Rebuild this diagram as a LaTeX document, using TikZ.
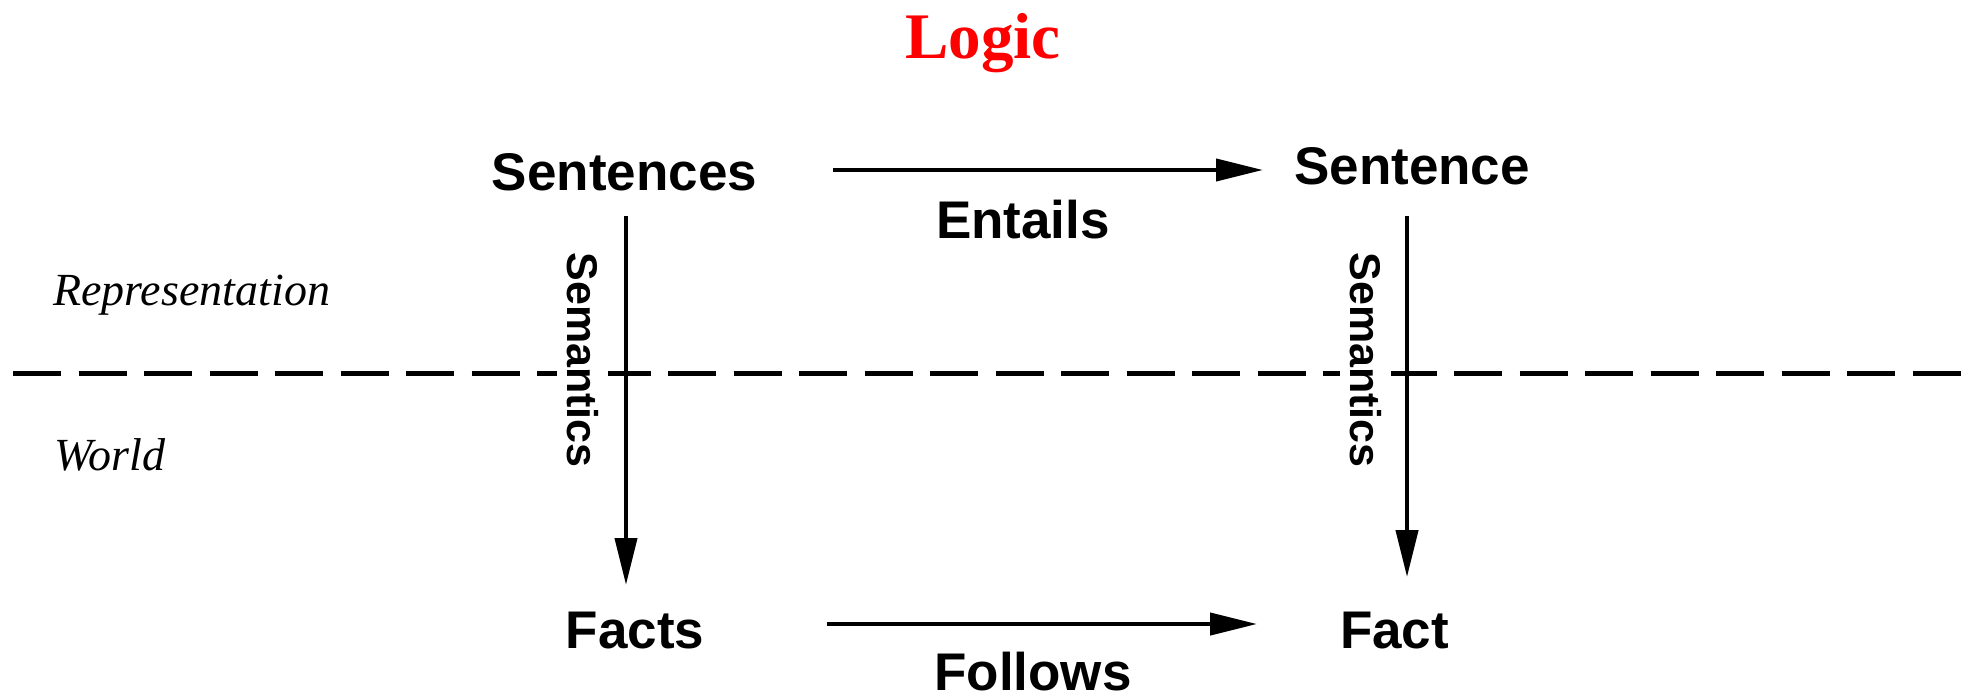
\documentclass[tikz,border=0pt]{standalone}
\usepackage{fontspec}
\setmainfont{Liberation Serif}
\newfontfamily\labelfont{Liberation Sans}
\usetikzlibrary{arrows.meta}

\tikzset{
  term/.style={font=\labelfont\bfseries\fontsize{53}{60}\selectfont, inner sep=0pt, anchor=base},
  semlabel/.style={font=\labelfont\bfseries\fontsize{43}{50}\selectfont, rotate=-90, anchor=base,
    fill=white, inner xsep=0pt, inner ysep=10pt},
  realm/.style={font=\itshape\fontsize{46}{52}\selectfont, inner sep=0pt, anchor=base west},
  title/.style={font=\bfseries\fontsize{65}{70}\selectfont, text=red, inner sep=0pt, anchor=base},
  arr/.style={line width=4.2pt, -{Triangle[length=47pt,width=22pt]}},
  divider/.style={line width=5pt, dash pattern=on 48pt off 17.5pt}
}

\begin{document}
\begin{tikzpicture}[x=1pt,y=-1pt]
  \useasboundingbox (0,0) rectangle (1971,697);

  % boundary between representation and world
  \coordinate (divL) at (13,373);
  \coordinate (divR) at (1961,373);
  \draw[divider] (divL) -- (divR);

  \node[title] (logic) at (983,58) {Logic};

  \node[realm] (repr) at (53,305) {Representation};
  \node[realm] (world) at (54,470) {World};

  \node[term] (sentences) at (624.5,190) {Sentences};
  \node[term] (sentence) at (1412,184) {Sentence};
  \node[term] (facts) at (635,648) {Facts};
  \node[term] (fact) at (1394.5,648) {Fact};
  \node[term] (entails) at (1023,238) {Entails};
  \node[term, text depth=0pt] (follows) at (1033,690) {Follows};

  % end points of the four arrows
  \coordinate (entS) at (833,170);
  \coordinate (entE) at (1263,170);
  \coordinate (folS) at (827,624);
  \coordinate (folE) at (1257,624);
  \coordinate (semLS) at (626,216);
  \coordinate (semLE) at (626,585);
  \coordinate (semRS) at (1407,216);
  \coordinate (semRE) at (1407,577);

  \draw[arr] (entS) -- (entE);
  \draw[arr] (folS) -- (folE);
  \draw[arr] (semLS) -- (semLE);
  \draw[arr] (semRS) -- (semRE);

  \node[semlabel] (semL) at (567,360) {Semantics};
  \node[semlabel] (semR) at (1350,360) {Semantics};
\end{tikzpicture}
\end{document}
